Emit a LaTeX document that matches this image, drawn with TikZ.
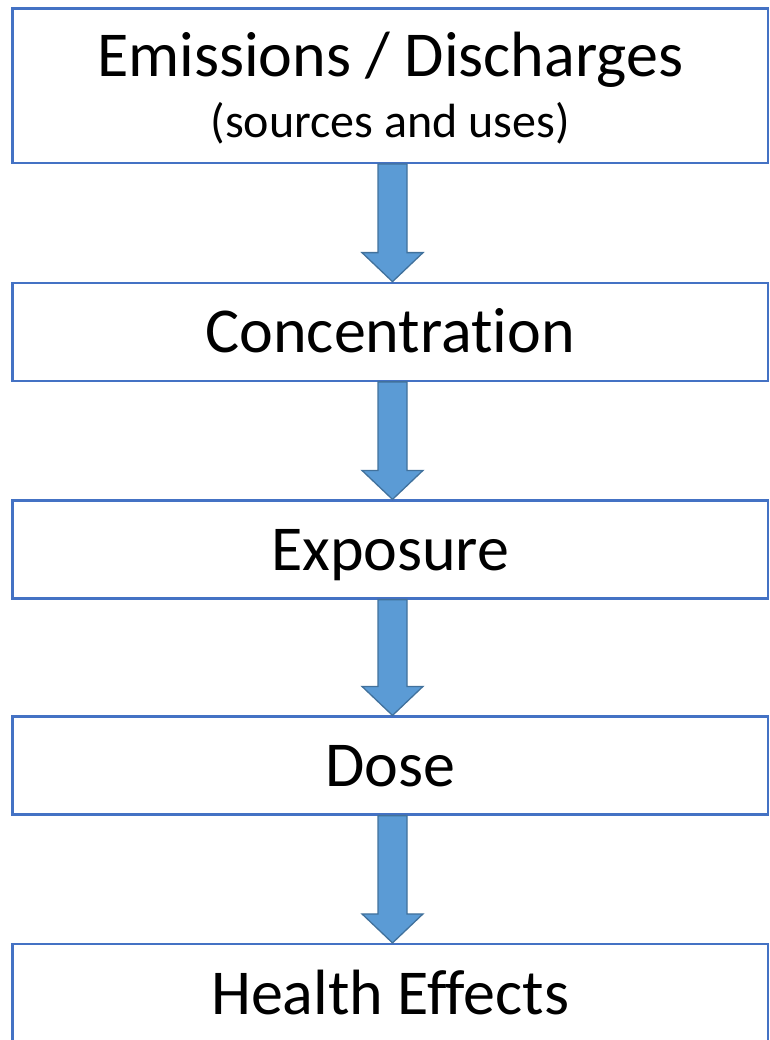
\documentclass[tikz,border=0pt]{standalone}
\usepackage{fontspec}
\setmainfont{Carlito}[Ligatures=CommonOff]
\usepackage{tikz}
\usetikzlibrary{positioning,calc}

\definecolor{boxblue}{HTML}{4472C4}
\definecolor{arrowfill}{HTML}{5B9BD5}
\definecolor{arrowedge}{HTML}{41719C}

\tikzset{
  stage/.style={draw=boxblue, line width=2.2pt, rectangle, inner sep=0pt,
    minimum width=755.5pt, minimum height=98pt,
    font=\fontsize{64}{61}\selectfont, text height=41pt, text depth=0pt},
  blockarrow/.style={draw=arrowedge, fill=arrowfill, line width=1.3pt, line join=miter,
    to path={let \p1=(\tikztostart), \p2=(\tikztotarget) in
      (\x1-14.5pt,\y1) -- (\x1-14.5pt,\y2+29pt) -- (\x1-30.5pt,\y2+29pt) -- (\x1,\y2)
      -- (\x1+30.5pt,\y2+29pt) -- (\x1+14.5pt,\y2+29pt) -- (\x1+14.5pt,\y1) -- cycle}}
}

\begin{document}
\begin{tikzpicture}[x=1pt,y=-1pt]
		\useasboundingbox (0,0) rectangle (769,1040);
		\node[stage, minimum height=154.5pt, align=center, text height=104pt, text depth=0pt] (emit) at (390.25,85.75)
			{Emissions / Discharges\\\fontsize{48}{61}\selectfont(sources and uses)};
		\node[stage] (conc) at (390.25,331.75) {Concentration};
		\node[stage] (expo) at (390.25,549.5) {Exposure};
		\node[stage] (dose) at (390.25,765.5) {Dose};
		\node[stage, minimum height=99pt] (health) at (390.25,993.5) {Health Effects};
		
		\draw[blockarrow] ([xshift=2.25pt]emit.south) to ([xshift=2.25pt]conc.north);
		\draw[blockarrow] ([xshift=2.25pt]conc.south) to ([xshift=2.25pt]expo.north);
		\draw[blockarrow] ([xshift=2.25pt]expo.south) to ([xshift=2.25pt]dose.north);
		\draw[blockarrow] ([xshift=2.25pt]dose.south) to ([xshift=2.25pt]health.north);
\end{tikzpicture}
\end{document}
